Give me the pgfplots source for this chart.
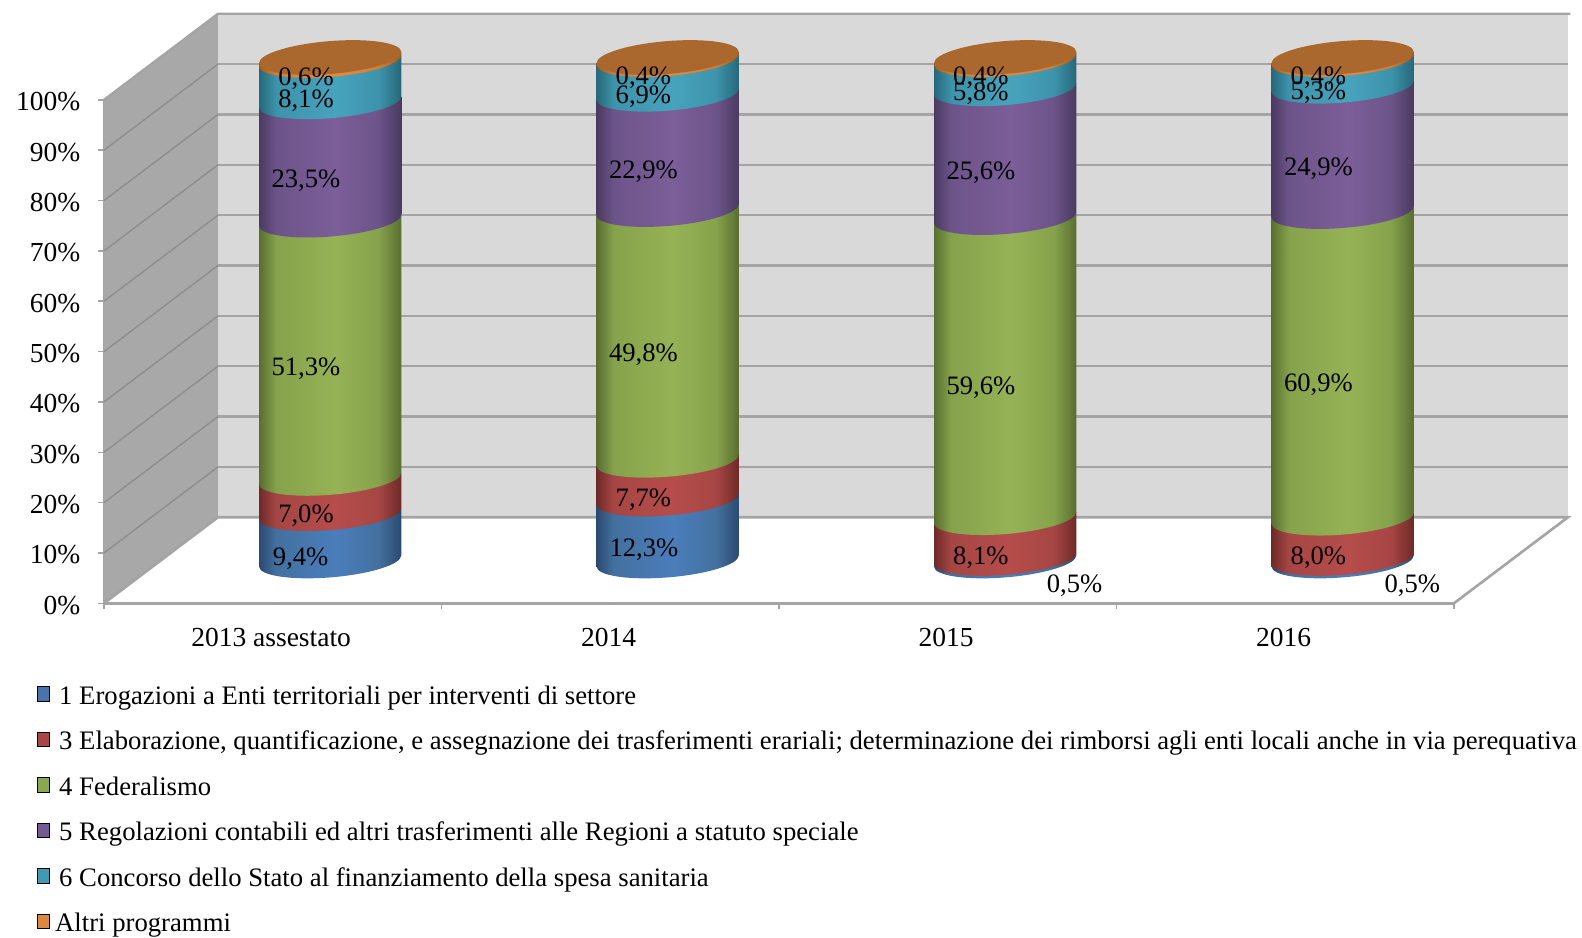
\documentclass[border=0pt]{standalone}
\usepackage{pgfplots}
\usepackage{pgfplotstable}
\usepackage{fontspec}
\setmainfont{Liberation Serif}
\pgfplotsset{compat=1.18}
\def\ux{0.50446pt}
\definecolor{wallback}{HTML}{D9D9D9}
\definecolor{wallleft}{HTML}{A8A8A8}
\definecolor{gridc}{HTML}{A4A4A4}
\definecolor{gridl}{HTML}{8E8E8E}
\definecolor{capc}{HTML}{AB682E}
\definecolor{legA}{HTML}{4674AB}
\definecolor{legB}{HTML}{A94644}
\definecolor{legC}{HTML}{8AA84F}
\definecolor{legD}{HTML}{745B93}
\definecolor{legE}{HTML}{3F9AB3}
\definecolor{legF}{HTML}{DE873E}
\newcommand\defcyl[4]{%
  \definecolor{#1e}{HTML}{#2}\definecolor{#1m}{HTML}{#3}\definecolor{#1h}{HTML}{#4}%
  \pgfdeclarehorizontalshading{#1}{100bp}{color(0bp)=(#1e);color(25bp)=(#1e);color(31bp)=(#1m);color(52bp)=(#1h);color(67bp)=(#1m);color(75bp)=(#1e);color(100bp)=(#1e)}}
\defcyl{cylA}{2B4A70}{43709F}{4A7EBB}
\defcyl{cylB}{6E2A28}{A64644}{B54D4B}
\defcyl{cylC}{5A6E30}{86A24C}{95B355}
\defcyl{cylD}{4A3A60}{6C5489}{7C5E99}
\defcyl{cylE}{27687A}{3D93AB}{47A3BC}
\defcyl{cylF}{A65A14}{D17F38}{E28B40}
\pgfplotstableread{
x cum val
0.5 0 9.4
1.5 0 12.3
2.5 0 0.5
3.5 0 0.5
}\serA
\pgfplotstableread{
x cum val
0.5 9.4 7.0
1.5 12.3 7.7
2.5 0.5 8.1
3.5 0.5 8.0
}\serB
\pgfplotstableread{
x cum val
0.5 16.4 51.3
1.5 20.0 49.8
2.5 8.6 59.6
3.5 8.5 60.9
}\serC
\pgfplotstableread{
x cum val
0.5 67.7 23.5
1.5 69.8 22.9
2.5 68.2 25.6
3.5 69.4 24.9
}\serD
\pgfplotstableread{
x cum val
0.5 91.2 8.1
1.5 92.7 6.9
2.5 93.8 5.8
3.5 94.3 5.3
}\serE
\pgfplotstableread{
x cum val
0.5 99.4 0.6
1.5 99.6 0.4
2.5 99.6 0.4
3.5 99.6 0.4
}\serF
\pgfplotstableread{
x y val
0.583 8.8 9.4
1.6 10.6 12.3
2.876 3.5 0.5
3.877 3.5 0.5
}\serMoved
\newcommand\segplot[3]{%
  \addplot[scatter,only marks,mark=*,mark size=0pt,draw=none,fill=none,forget plot,
    visualization depends on={\thisrow{val}\as\segval},
    scatter/@pre marker code/.code={%
      \pgfmathsetlengthmacro\segH{\segval*4.99*0.50446}%
      \begin{scope}
        \pgftransformshift{\pgfqpoint{28.75pt}{21.19pt}}%
        \pgftransformyslant{0.078}%
        \shade[shading=#1] (-70.5*\ux,\segH) -- (-70.5*\ux,0pt)
          arc[start angle=180,end angle=360,x radius=70.5*\ux,y radius=16.3*\ux]
          -- (70.5*\ux,\segH) -- cycle;
        #3
      \end{scope}},
    scatter/@post marker code/.code={}
  ] table[x=x,y=cum] {#2};}
\newcommand\lblplot[1]{%
  \addplot[draw=none,mark=none,forget plot,
    point meta=\thisrow{val},
    nodes near coords={\fontsize{13.3pt}{16pt}\selectfont\pgfmathprintnumber[fixed,fixed zerofill,precision=1,use comma,assume math mode=true]{\pgfplotspointmeta}\%},
    every node near coord/.append style={anchor=center,inner sep=0pt,text=black,xshift=33*\ux,yshift=22.5*\ux}
  ] table[x=x,y expr=\thisrow{cum}+\thisrow{val}/2] {#1};}
\begin{document}
\fontsize{13.35pt}{16pt}\selectfont
\begin{tikzpicture}
\path[use as bounding box] (-103*\ux,-331*\ux) rectangle (1465*\ux,598*\ux);
\begin{axis}[
  scale only axis,
  width=1338*\ux,height=499*\ux,
  xmin=0,xmax=4,ymin=0,ymax=100,
  clip=false,
  axis x line*=bottom,axis y line*=left,
  axis line style={color=gridc,line width=1.3pt,-},
  xtick={0,1,2,3,4},
  x tick label as interval,
  xticklabels={2013 assestato,2014,2015,2016},
  ytick={0,10,20,30,40,50,60,70,80,90,100},
  yticklabels={0\%,10\%,20\%,30\%,40\%,50\%,60\%,70\%,80\%,90\%,100\%},
  tick align=outside,
  major tick length=6*\ux,
  tick style={color=gridc,line width=0.8pt},
  tick label style={font=\fontsize{13.75pt}{16pt}\selectfont},
  yticklabel style={xshift=-17*\ux,yshift=-2*\ux,inner sep=0pt,anchor=east},
  xticklabel style={xshift=-1.5*\ux,yshift=-18*\ux,inner sep=0pt},
  legend style={at={(axis cs:-0.2003,-16.4)},anchor=north west,draw=none,fill=none,inner sep=0pt,
    row sep=21.5*\ux,column sep=9*\ux,
    nodes={inner sep=0pt,text height=16*\ux,text depth=6*\ux,anchor=west}},
  legend cell align=left,
  legend image code/.code={\fill[#1] (0pt,-2.2*\ux) rectangle (12.5*\ux,12.2*\ux);},
]
% walls and floor
\addplot[fill=wallback,draw=none,forget plot] coordinates {(0.338,17.1)(4.338,17.1)(4.338,117.1)(0.338,117.1)} -- cycle;
\addplot[fill=wallleft,draw=none,forget plot] coordinates {(0,0)(0.338,17.1)(0.338,117.1)(0,100)} -- cycle;
% gridlines
\addplot[gridl,line width=0.7pt,forget plot] coordinates {(0,10)(0.338,27.1)};
\addplot[gridl,line width=0.7pt,forget plot] coordinates {(0,20)(0.338,37.1)};
\addplot[gridl,line width=0.7pt,forget plot] coordinates {(0,30)(0.338,47.1)};
\addplot[gridl,line width=0.7pt,forget plot] coordinates {(0,40)(0.338,57.1)};
\addplot[gridl,line width=0.7pt,forget plot] coordinates {(0,50)(0.338,67.1)};
\addplot[gridl,line width=0.7pt,forget plot] coordinates {(0,60)(0.338,77.1)};
\addplot[gridl,line width=0.7pt,forget plot] coordinates {(0,70)(0.338,87.1)};
\addplot[gridl,line width=0.7pt,forget plot] coordinates {(0,80)(0.338,97.1)};
\addplot[gridl,line width=0.7pt,forget plot] coordinates {(0,90)(0.338,107.1)};
\addplot[gridc,line width=1.3pt,forget plot] coordinates {(0,0)(0.338,17.1)(4.338,17.1)(4,0)};
\addplot[gridc,line width=1.2pt,forget plot] coordinates {(0,100)(0.338,117.1)(4.345,117.1)};
\addplot[gridc,line width=1.2pt,forget plot] coordinates {(0.338,27.1)(4.338,27.1)};
\addplot[gridc,line width=1.2pt,forget plot] coordinates {(0.338,37.1)(4.338,37.1)};
\addplot[gridc,line width=1.2pt,forget plot] coordinates {(0.338,47.1)(4.338,47.1)};
\addplot[gridc,line width=1.2pt,forget plot] coordinates {(0.338,57.1)(4.338,57.1)};
\addplot[gridc,line width=1.2pt,forget plot] coordinates {(0.338,67.1)(4.338,67.1)};
\addplot[gridc,line width=1.2pt,forget plot] coordinates {(0.338,77.1)(4.338,77.1)};
\addplot[gridc,line width=1.2pt,forget plot] coordinates {(0.338,87.1)(4.338,87.1)};
\addplot[gridc,line width=1.2pt,forget plot] coordinates {(0.338,97.1)(4.338,97.1)};
\addplot[gridc,line width=1.2pt,forget plot] coordinates {(0.338,107.1)(4.338,107.1)};
% cylinders
\segplot{cylA}{\serA}{}
\segplot{cylB}{\serB}{}
\segplot{cylC}{\serC}{}
\segplot{cylD}{\serD}{}
\segplot{cylE}{\serE}{}
\segplot{cylF}{\serF}{\fill[capc] (0pt,\segH) circle[x radius=70.5*\ux,y radius=16.3*\ux];}
% data labels
\addplot[draw=none,mark=none,forget plot,
    point meta=\thisrow{val},
    nodes near coords={\fontsize{13.3pt}{16pt}\selectfont\pgfmathprintnumber[fixed,fixed zerofill,precision=1,use comma,assume math mode=true]{\pgfplotspointmeta}\%},
    every node near coord/.append style={anchor=center,inner sep=0pt,text=black}
  ] table[x=x,y=y] {\serMoved};
\lblplot{\serB}
\lblplot{\serC}
\lblplot{\serD}
\lblplot{\serE}
\lblplot{\serF}
% legend
\addlegendimage{fill=legA}\addlegendentry{1 Erogazioni a Enti territoriali per interventi di settore}
\addlegendimage{fill=legB}\addlegendentry{3 Elaborazione, quantificazione, e assegnazione dei trasferimenti erariali; determinazione dei rimborsi agli enti locali anche in via perequativa}
\addlegendimage{fill=legC}\addlegendentry{4 Federalismo}
\addlegendimage{fill=legD}\addlegendentry{5 Regolazioni contabili ed altri trasferimenti alle Regioni a statuto speciale}
\addlegendimage{fill=legE}\addlegendentry{6 Concorso dello Stato al finanziamento della spesa sanitaria}
\addlegendimage{fill=legF}\addlegendentry{\hspace*{-2pt}Altri programmi}
\end{axis}
\end{tikzpicture}
\end{document}
